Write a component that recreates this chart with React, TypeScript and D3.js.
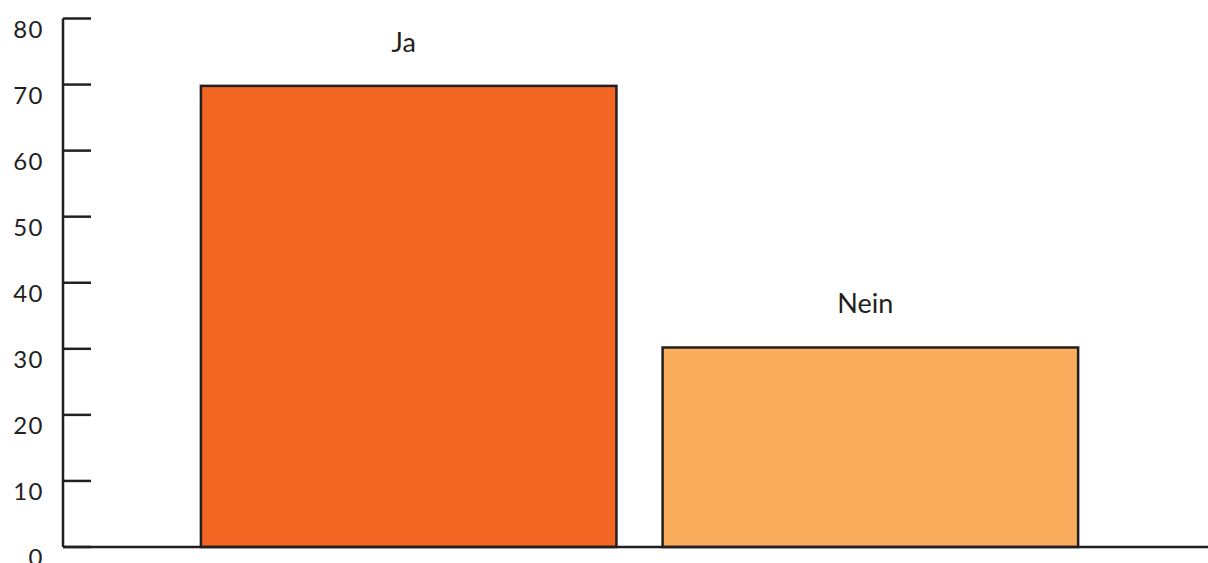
import React from "react";
import * as d3 from "d3";

const categories = ["Ja", "Nein"];
const values = [69.8, 30.2];
const colors = ["#f26522", "#f9ad5d"];
const yTicks = [0, 10, 20, 30, 40, 50, 60, 70, 80];

const W = 1208;
const H = 563;

export default function App() {
  const axisX = 63;
  const y = d3.scaleLinear().domain([0, 80]).range([547, 18.5]);
  const x = d3
    .scaleBand<string>()
    .domain(categories)
    .range([axisX, W])
    .paddingInner(0.1)
    .paddingOuter(0.29)
    .align(0.515);
  const ink = "#231f20";
  return (
    <svg
      width={W}
      height={H}
      style={{ position: "absolute", left: 0, top: 0, background: "#fff" }}
      fontFamily="Lato, 'Open Sans', sans-serif"
    >
      {categories.map((c, i) => (
        <g key={c}>
          <rect
            x={x(c)!}
            y={y(values[i])}
            width={x.bandwidth()}
            height={y(0) - y(values[i])}
            fill={colors[i]}
            stroke={ink}
            strokeWidth={2.5}
          />
          <text
            x={x(c)! + x.bandwidth() / 2 - 5}
            y={y(values[i]) - 34}
            textAnchor="middle"
            fontSize={27}
            fill={ink}
          >
            {c}
          </text>
        </g>
      ))}
      <line x1={axisX} x2={axisX} y1={y(80)} y2={y(0)} stroke={ink} strokeWidth={2.5} />
      <line x1={axisX} x2={W} y1={y(0)} y2={y(0)} stroke={ink} strokeWidth={2.5} />
      {yTicks.map((t) => (
        <g key={t}>
          <line x1={axisX} x2={91} y1={y(t)} y2={y(t)} stroke={ink} strokeWidth={2.5} />
          <text
            x={44}
            y={y(t) + 19}
            textAnchor="end"
            fontSize={24}
            letterSpacing={1.5}
            fill={ink}
          >
            {t}
          </text>
        </g>
      ))}
    </svg>
  );
}
